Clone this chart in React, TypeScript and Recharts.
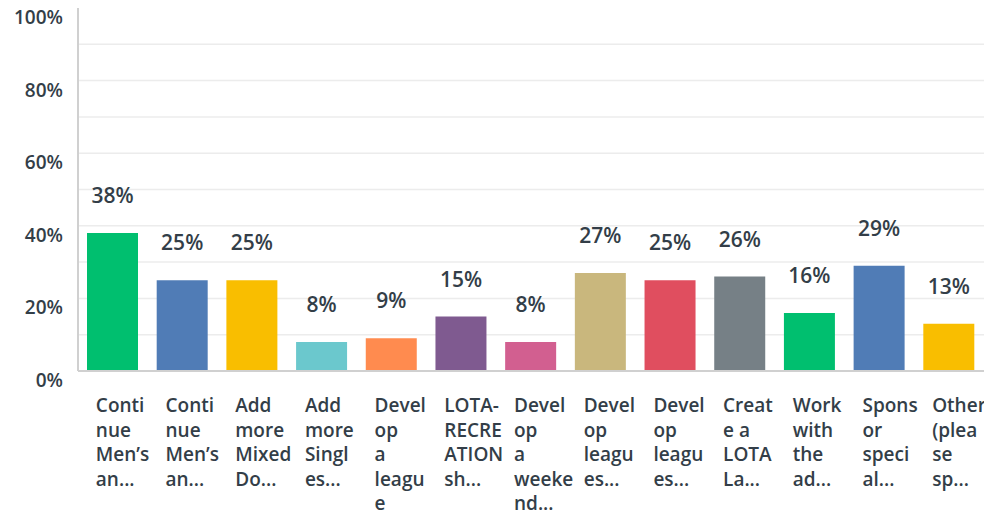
import React from "react";
import { BarChart, Bar, XAxis, YAxis, CartesianGrid, Cell, LabelList } from "recharts";

const categories = [
  "Conti\nnue\nMen’s\nan...",
  "Conti\nnue\nMen’s\nan...",
  "Add\nmore\nMixed\nDo...",
  "Add\nmore\nSingl\nes...",
  "Devel\nop\na\nleagu\ne",
  "LOTA-\nRECRE\nATION\nsh...",
  "Devel\nop\na\nweeke\nnd...",
  "Devel\nop\nleagu\nes...",
  "Devel\nop\nleagu\nes...",
  "Creat\ne a\nLOTA\nLa...",
  "Work\nwith\nthe\nad...",
  "Spons\nor\nspeci\nal...",
  "Other\n(plea\nse\nsp...",
];
const values = [38, 25, 25, 8, 9, 15, 8, 27, 25, 26, 16, 29, 13];
const colors = [
  "#00BF6F", "#507CB6", "#F9BE00", "#6BC8CD", "#FF8B4F", "#7F5A90", "#D25F90",
  "#C9B77D", "#E04E5F", "#768086", "#00BF6F", "#507CB6", "#F9BE00",
];
const yTicks = [0, 10, 20, 30, 40, 50, 60, 70, 80, 90, 100];
const gridValues = [10, 20, 30, 40, 50, 60, 70, 80, 90];

const data = categories.map((c, i) => ({ name: c, key: i, value: values[i] }));

const FONT = "'Open Sans', sans-serif";
const TEXT = "#333e48";

const XTick = (props: any) => {
  const { x, y, payload } = props;
  const lines = String(categories[payload.index] ?? payload.value).split("\n");
  return (
    <g>
      {lines.map((l, i) => (
        <text key={i} x={x - 17} y={y + 33 + i * 24.5} fill={TEXT} fontSize={19} fontWeight={600} fontFamily={FONT} textAnchor="start">
          {l}
        </text>
      ))}
    </g>
  );
};

const YTick = (props: any) => {
  const { y, payload } = props;
  if (payload.value % 20 !== 0) return null;
  return (
    <text x={63} y={y + 16} fill={TEXT} fontSize={19} fontWeight={600} fontFamily={FONT} textAnchor="end">
      {payload.value}%
    </text>
  );
};

const TopLabel = (props: any) => {
  const { x, y, width, value } = props;
  return (
    <text x={x + width / 2} y={y - 30} fill={TEXT} fontSize={21} fontWeight={600} fontFamily={FONT} textAnchor="middle">
      {value}%
    </text>
  );
};

export default function App() {
  return (
    <div style={{ position: "absolute", left: 0, top: 0, width: 984, height: 512, background: "#fff" }}>
      <BarChart width={984} height={512} data={data} margin={{ top: 8, right: 0, bottom: 0, left: 0 }} barSize={51}>
        <CartesianGrid vertical={false} horizontalValues={gridValues} stroke="#ececec" strokeWidth={1.5} />
        <XAxis dataKey="key" height={141} tickLine={false} axisLine={{ stroke: "#d0d0d0", strokeWidth: 2 }} tick={<XTick />} interval={0} />
        <YAxis width={78} domain={[0, 100]} ticks={yTicks} tickLine={false} axisLine={{ stroke: "#d0d0d0", strokeWidth: 2 }} tick={<YTick />} interval={0} />
        <Bar dataKey="value" isAnimationActive={false}>
          {data.map((d, i) => (
            <Cell key={i} fill={colors[i]} />
          ))}
          <LabelList dataKey="value" content={<TopLabel />} />
        </Bar>
      </BarChart>
    </div>
  );
}
